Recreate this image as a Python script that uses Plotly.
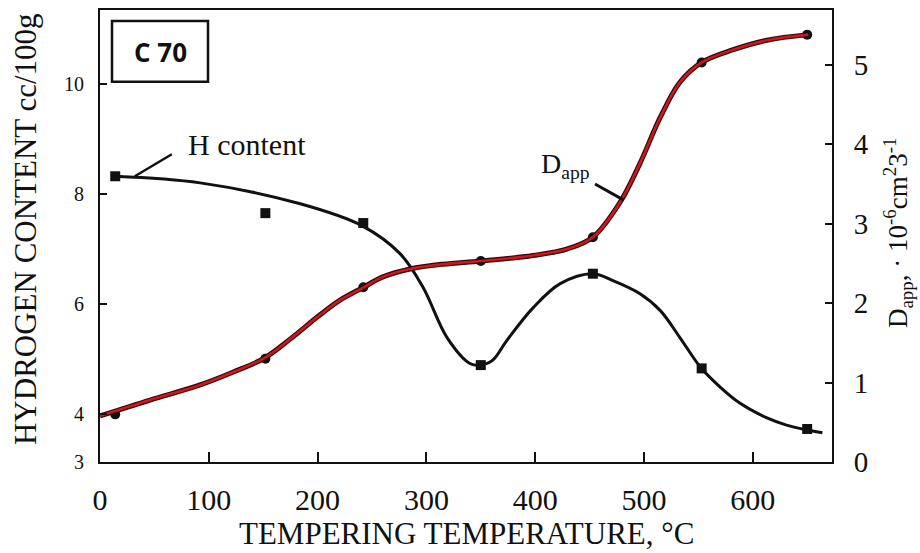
import plotly.graph_objects as go

# ---- data ----
temps = [14, 152, 242, 350, 453, 553, 650]
h_content = [8.32, 7.65, 7.47, 4.89, 6.55, 4.83, 3.73]          # cc/100g (left axis)
d_app = [0.60, 1.30, 2.20, 2.53, 2.83, 5.03, 5.38]              # 10^-6 cm^2 s^-1 (right axis)

# drawn fit curves
h_curve_t = [14, 92, 184, 241, 276, 297, 319, 340, 350, 361, 374,
             398, 423, 453, 472, 496, 515, 533, 552, 570, 588, 613, 631, 650, 664]
h_curve_v = [8.32, 8.20, 7.82, 7.42, 6.91, 6.30, 5.39, 4.92, 4.89, 4.98, 5.34,
             5.93, 6.37, 6.55, 6.42, 6.19, 5.88, 5.39, 4.85, 4.49, 4.20, 3.93, 3.80, 3.71, 3.66]

d_curve_t = [0, 46, 92, 122, 150, 175, 202, 221, 241, 260, 285, 315, 350, 398, 429,
             453, 478, 496, 515, 533, 553, 582, 613, 651]
d_curve_v = [0.58, 0.78, 0.97, 1.13, 1.30, 1.55, 1.85, 2.04, 2.19, 2.33, 2.43, 2.49, 2.53, 2.60, 2.68,
             2.83, 3.27, 3.75, 4.34, 4.78, 5.03, 5.19, 5.31, 5.38]

x_ticks = [0, 100, 200, 300, 400, 500, 600]
left_tickvals = [3.13, 4, 6, 8, 10]
left_ticktext = ["3", "4", "6", "8", "10"]
right_ticks = [0, 1, 2, 3, 4, 5]

SERIF = "Liberation Serif, Times New Roman, serif"
RED = "#d3141c"
SM = 1.0

fig = go.Figure()

# H content curve + squares
fig.add_trace(go.Scatter(x=h_curve_t, y=h_curve_v, mode="lines",
                         line=dict(color="#111111", width=3, shape="spline", smoothing=SM),
                         hoverinfo="skip", showlegend=False))
fig.add_trace(go.Scatter(x=temps, y=h_content, mode="markers",
                         marker=dict(symbol="square", size=10, color="#111111"),
                         showlegend=False, name="H content"))

# D_app curve: dark outline, markers, red line on top
fig.add_trace(go.Scatter(x=d_curve_t, y=d_curve_v, mode="lines", yaxis="y2",
                         line=dict(color="#2a0a0a", width=5, shape="spline", smoothing=SM),
                         hoverinfo="skip", showlegend=False))
fig.add_trace(go.Scatter(x=temps, y=d_app, mode="markers", yaxis="y2",
                         marker=dict(symbol="circle", size=10, color="#111111"),
                         showlegend=False, name="Dapp"))
fig.add_trace(go.Scatter(x=d_curve_t, y=d_curve_v, mode="lines", yaxis="y2",
                         line=dict(color=RED, width=2.6, shape="spline", smoothing=SM),
                         hoverinfo="skip", showlegend=False))

W, H = 920, 553
L, R, T, B = 100, 88, 8, 91
PW, PH = W - L - R, H - T - B


def px(xp):
    return (xp - L) / PW


def py(yp):
    return (H - B - yp) / PH


fig.update_layout(
    width=W, height=H,
    margin=dict(l=L, r=R, t=T, b=B),
    paper_bgcolor="white", plot_bgcolor="white",
    font=dict(family=SERIF, color="#111111"),
    xaxis=dict(range=[0, 672.8], tickvals=x_ticks, ticks="inside", ticklen=10, tickwidth=2,
               tickcolor="#111111", showline=True, linecolor="#111111", linewidth=2, mirror=True,
               showgrid=False, zeroline=False, tickfont=dict(size=30, family=SERIF),
               ticklabelstandoff=10),
    yaxis=dict(range=[3.13, 11.34], tickvals=left_tickvals, ticktext=left_ticktext,
               ticks="inside", ticklen=7, tickwidth=2, tickcolor="#111111",
               showline=True, linecolor="#111111", linewidth=2, showgrid=False, zeroline=False,
               tickfont=dict(size=20, family=SERIF), ticklabelstandoff=10),
    yaxis2=dict(range=[0, 5.69], tickvals=right_ticks, overlaying="y", side="right",
                ticks="inside", ticklen=7, tickwidth=2, tickcolor="#111111",
                showline=True, linecolor="#111111", linewidth=2, showgrid=False, zeroline=False,
                tickfont=dict(size=29, family=SERIF), ticklabelstandoff=14),
)

ann = []
# axis titles
ann.append(dict(text="TEMPERING TEMPERATURE, °C", xref="paper", yref="paper",
                x=px(466), y=py(534), showarrow=False, font=dict(size=31, family=SERIF),
                xanchor="center", yanchor="middle"))
ann.append(dict(text="HYDROGEN CONTENT cc/100g", xref="paper", yref="paper",
                x=px(25), y=py(228), showarrow=False, textangle=-90,
                font=dict(size=31, family=SERIF), xanchor="center", yanchor="middle"))
ann.append(dict(text="D<sub>app</sub>, · 10<sup>-6</sup>cm<sup>2</sup>3<sup>-1</sup>",
                xref="paper", yref="paper", x=px(898), y=py(232), showarrow=False, textangle=-90,
                font=dict(size=27, family=SERIF), xanchor="center", yanchor="middle"))
# labels
ann.append(dict(text="H content", xref="paper", yref="paper", x=px(247), y=py(143),
                showarrow=False, font=dict(size=30, family=SERIF), xanchor="center", yanchor="middle"))
ann.append(dict(text="D<sub>app</sub>", xref="paper", yref="paper", x=px(565), y=py(164),
                showarrow=False, font=dict(size=28, family=SERIF), xanchor="center", yanchor="middle"))
ann.append(dict(text="<b>C 70</b>", xref="paper", yref="paper", x=px(160), y=py(50),
                showarrow=False, font=dict(size=26, family="Open Sans, Liberation Sans, sans-serif"),
                xanchor="center", yanchor="middle"))
fig.update_layout(annotations=ann)

shapes = [
    dict(type="rect", xref="paper", yref="paper", x0=px(112), x1=px(208), y0=py(80), y1=py(19),
         line=dict(color="#111111", width=2.5), fillcolor="white", layer="below"),
    dict(type="line", xref="x", yref="y", x0=32, y0=8.32, x1=66, y1=8.72,
         line=dict(color="#111111", width=2.5)),
    dict(type="line", xref="x", yref="y2", x0=455, y0=3.50, x1=481, y1=3.30,
         line=dict(color="#111111", width=3)),
]
fig.update_layout(shapes=shapes)

fig.write_html("out.html", config={"displayModeBar": False},
               post_script="document.body.style.margin='0';document.body.style.overflow='hidden';")
